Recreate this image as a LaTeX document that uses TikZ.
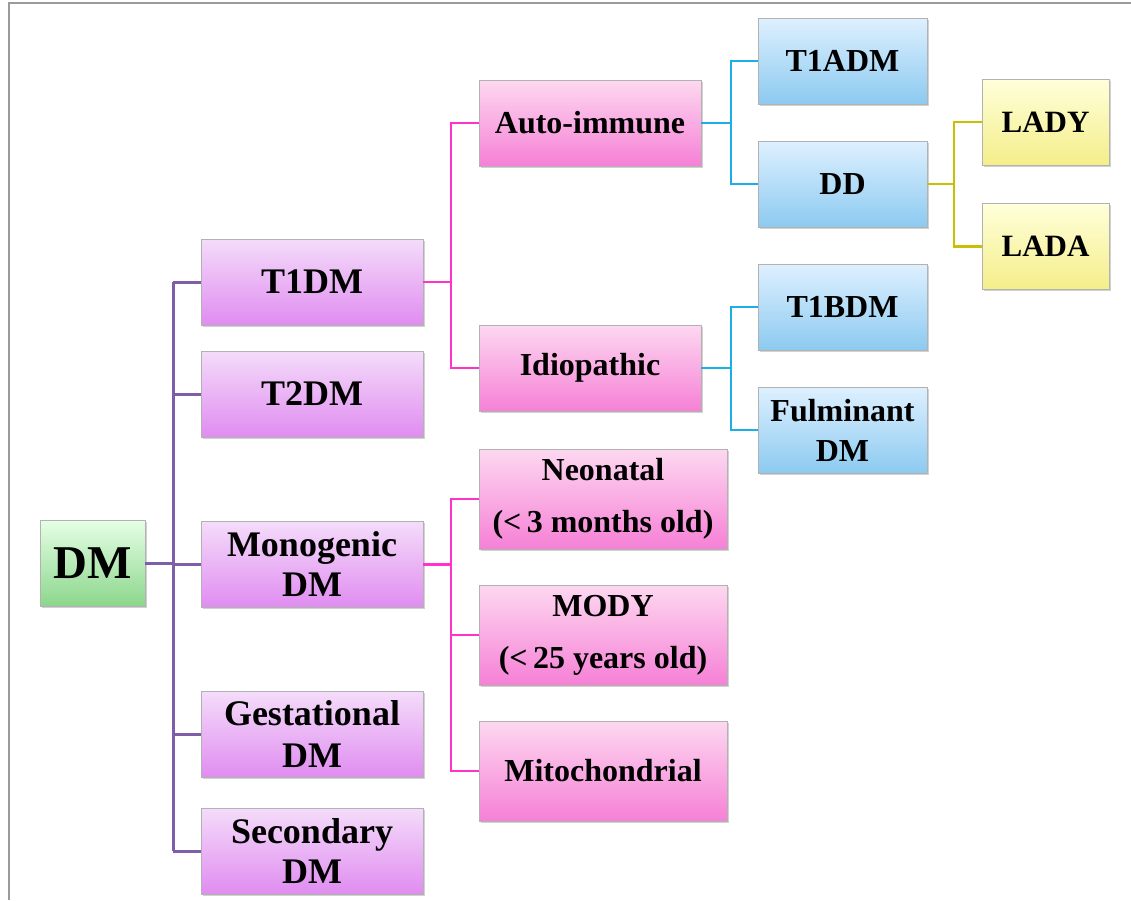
\documentclass[tikz,border=0pt]{standalone}
\usepackage{fontspec}
\setmainfont{Liberation Serif}
\usetikzlibrary{shadows}
\definecolor{plinec}{HTML}{7F5EA8}
\definecolor{klinec}{HTML}{FF33CC}
\definecolor{blinec}{HTML}{1EAEE6}
\definecolor{ylinec}{HTML}{C8C000}
\definecolor{framec}{HTML}{9A9A9A}
\tikzset{
  nbox/.style={rectangle, inner sep=0pt, align=center, line width=0.8pt,
    drop shadow={shadow xshift=1.5pt, shadow yshift=-1.5pt, opacity=0.3, fill=black!60}},
  greenbox/.style={nbox, draw=black!30, top color=green!10!white, bottom color={rgb,255:red,140;green,214;blue,140}},
  purplebox/.style={nbox, draw=black!30, top color={rgb,255:red,244;green,220;blue,250}, bottom color={rgb,255:red,224;green,140;blue,240},
    minimum width=222pt, minimum height=86pt, font=\bfseries\fontsize{36}{40}\selectfont},
  pinkbox/.style={nbox, draw=black!30, top color={rgb,255:red,253;green,216;blue,240}, bottom color={rgb,255:red,246;green,128;blue,214},
    font=\bfseries\fontsize{32}{52}\selectfont},
  bluebox/.style={nbox, draw=black!30, top color={rgb,255:red,222;green,240;blue,255}, bottom color={rgb,255:red,140;green,202;blue,240},
    minimum width=169pt, minimum height=86pt, font=\bfseries\fontsize{32}{40}\selectfont},
  yellowbox/.style={nbox, draw=black!30, top color={rgb,255:red,255;green,255;blue,218}, bottom color={rgb,255:red,244;green,238;blue,138},
    minimum width=127pt, minimum height=86pt, font=\bfseries\fontsize{31}{40}\selectfont},
  pline/.style={draw=plinec, line width=3pt},
  kline/.style={draw=klinec, line width=2.6pt},
  bline/.style={draw=blinec, line width=2.6pt},
  yline/.style={draw=ylinec, line width=2.6pt},
}
\begin{document}
\begin{tikzpicture}[x=1pt,y=-1pt]
\useasboundingbox (0,0) rectangle (1131,900);
\draw[framec, line width=2pt] (9,900) -- (9,3) -- (1131,3);

% level 0
\node[greenbox, minimum width=105pt, minimum height=86pt, font=\bfseries\fontsize{47}{50}\selectfont] (dm) at (92.5,563) {DM};

% level 1
\node[purplebox] (t1) at (312,282) {T1DM};
\node[purplebox] (t2) at (312,394) {T2DM};
\node[purplebox] (mono) at (312,564.5) {Monogenic\\DM};
\node[purplebox, font=\bfseries\fontsize{36}{42}\selectfont] (gest) at (312,734.5) {Gestational\\DM};
\node[purplebox] (sec) at (312,851) {Secondary\\DM};

% level 2
\node[pinkbox, minimum width=222pt, minimum height=86pt] (auto) at (590,123) {Auto-immune};
\node[pinkbox, minimum width=222pt, minimum height=86pt] (idio) at (590,368) {Idiopathic};
\node[pinkbox, minimum width=248pt, minimum height=100pt] (neo) at (603,499) {Neonatal\\(\textless\,3 months old)};
\node[pinkbox, minimum width=248pt, minimum height=100pt] (mody) at (603,635) {MODY\\(\textless\,25 years old)};
\node[pinkbox, minimum width=248pt, minimum height=100pt] (mito) at (603,771) {Mitochondrial};

% level 3
\node[bluebox] (t1a) at (842.5,61) {T1ADM};
\node[bluebox] (dd) at (842.5,184) {DD};
\node[bluebox] (t1b) at (842.5,307) {T1BDM};
\node[bluebox] (fulm) at (842.5,430) {Fulminant\\DM};

% level 4
\node[yellowbox] (lady) at (1045.5,122) {LADY};
\node[yellowbox] (lada) at (1045.5,246.5) {LADA};

% trunks
\coordinate (tx) at (173,0);
\coordinate (px) at (451,0);
\coordinate (bx) at (731,0);
\coordinate (yx) at (954,0);

% purple
\draw[pline] (dm.east) -- (dm.east -| tx);
\draw[pline] (tx |- t1.west) -- (tx |- sec.west);
\foreach \n in {t1,t2,mono,gest,sec} \draw[pline] (tx |- \n.west) -- (\n.west);

% pink
\draw[kline] (t1.east) -- (px |- t1.east);
\draw[kline] (auto.west) -- (px |- auto.west) -- (px |- idio.west) -- (idio.west);
\draw[kline] (mono.east) -- (px |- mono.east);
\draw[kline] (neo.west) -- (px |- neo.west) -- (px |- mito.west) -- (mito.west);
\draw[kline] (px |- mody.west) -- (mody.west);

% blue
\draw[bline] (auto.east) -- (bx |- auto.east);
\draw[bline] (t1a.west) -- (bx |- t1a.west) -- (bx |- dd.west) -- (dd.west);
\draw[bline] (idio.east) -- (bx |- idio.east);
\draw[bline] (t1b.west) -- (bx |- t1b.west) -- (bx |- fulm.west) -- (fulm.west);

% yellow
\draw[yline] (dd.east) -- (yx |- dd.east);
\draw[yline] (lady.west) -- (yx |- lady.west) -- (yx |- lada.west) -- (lada.west);
\end{tikzpicture}
\end{document}
